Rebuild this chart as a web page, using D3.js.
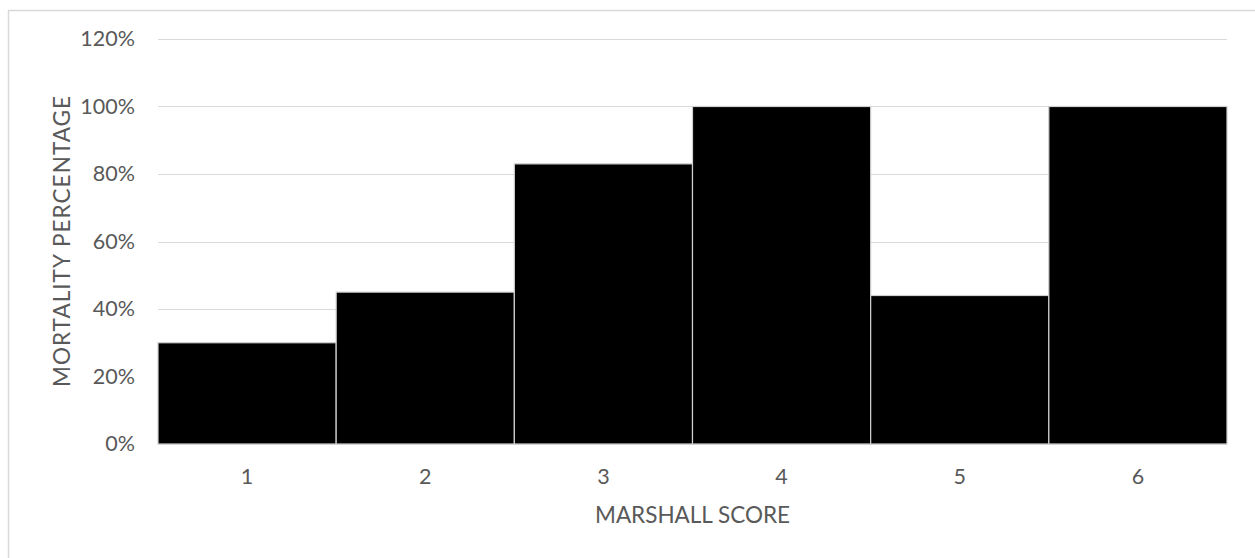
<!DOCTYPE html>
<html>
<head>
<meta charset="utf-8">
<script src="https://cdn.jsdelivr.net/npm/d3@7"></script>
<style>
  html, body { margin: 0; padding: 0; background: #fff; }
  svg { display: block; }
  text { font-family: Lato, "Open Sans", sans-serif; fill: #595959; }
</style>
</head>
<body>
<svg id="chart" width="1255" height="558"></svg>
<script>
// Marshall score categories and the mortality share observed in each
const scores = ["1", "2", "3", "4", "5", "6"];
const mortality = [0.30, 0.45, 0.83, 1.00, 0.44, 1.00];
const yTicks = [0, 0.2, 0.4, 0.6, 0.8, 1.0, 1.2];
const xTitle = "MARSHALL SCORE";
const yTitle = "MORTALITY PERCENTAGE";

const svg = d3.select("#chart");
const W = 1255, H = 558;
const margin = { top: 39, right: 28, bottom: 114, left: 158 };
const plotW = W - margin.left - margin.right;
const plotH = H - margin.top - margin.bottom;

// outer frame of the chart area
svg.append("rect")
  .attr("x", 8.5).attr("y", 10.5)
  .attr("width", W + 10).attr("height", H + 10)
  .attr("fill", "#fff")
  .attr("stroke", "#d9d9d9").attr("stroke-width", 1.5);

const g = svg.append("g").attr("transform", `translate(${margin.left},${margin.top})`);

const x = d3.scaleBand().domain(scores).range([0, plotW]).padding(0);
const y = d3.scaleLinear().domain([0, 1.2]).range([plotH, 0]);

// horizontal gridlines
g.append("g")
  .selectAll("line")
  .data(yTicks)
  .join("line")
  .attr("x1", 0).attr("x2", plotW)
  .attr("y1", d => Math.round(y(d)) + 0.5)
  .attr("y2", d => Math.round(y(d)) + 0.5)
  .attr("stroke", "#d9d9d9").attr("stroke-width", 1);

// y axis tick labels
const yAxis = d3.axisLeft(y)
  .tickValues(yTicks)
  .tickFormat(d3.format(".0%"))
  .tickSize(0)
  .tickPadding(23);
const yG = g.append("g").call(yAxis);
yG.select(".domain").remove();
yG.selectAll("text")
  .style("font-size", "21.5px")
  .attr("fill", "#595959");

// bars
g.append("g")
  .selectAll("rect")
  .data(scores.map((s, i) => ({ s, v: mortality[i] })))
  .join("rect")
  .attr("x", d => x(d.s))
  .attr("y", d => y(d.v))
  .attr("width", x.bandwidth())
  .attr("height", d => y(0) - y(d.v))
  .attr("fill", "#000")
  .attr("stroke", "#d0d0d0")
  .attr("stroke-width", 1.2);

// x axis tick labels
const xAxis = d3.axisBottom(x).tickSize(0).tickPadding(25);
const xG = g.append("g").attr("transform", `translate(0,${plotH})`).call(xAxis);
xG.select(".domain").remove();
xG.selectAll("text")
  .style("font-size", "21.5px")
  .attr("fill", "#595959");

// axis titles
svg.append("text")
  .attr("x", margin.left + plotW / 2)
  .attr("y", 523)
  .attr("text-anchor", "middle")
  .style("font-size", "22.5px")
  .attr("textLength", 195)
  .attr("lengthAdjust", "spacing")
  .text(xTitle);

svg.append("text")
  .attr("transform", `translate(70,${margin.top + plotH / 2}) rotate(-90)`)
  .attr("text-anchor", "middle")
  .style("font-size", "22.5px")
  .attr("textLength", 291)
  .attr("lengthAdjust", "spacing")
  .text(yTitle);
</script>
</body>
</html>
